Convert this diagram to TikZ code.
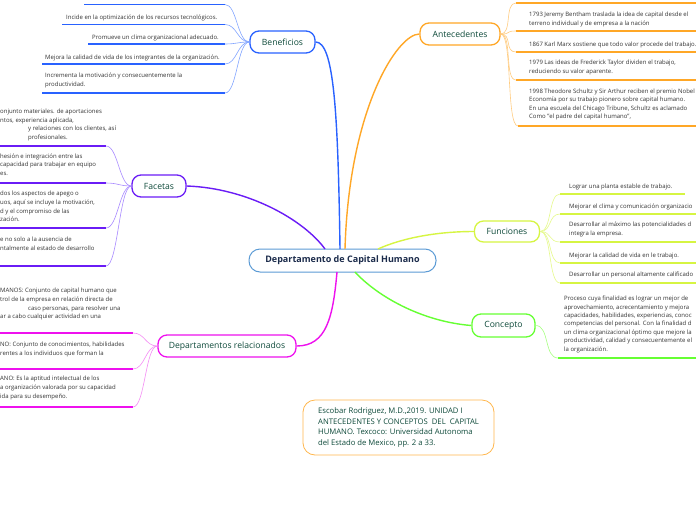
\documentclass[tikz,border=0pt]{standalone}
\usepackage{fontspec}
\setmainfont{Open Sans}
\definecolor{cblue}{HTML}{2962FF}
\definecolor{cbluel}{HTML}{82A5FF}
\definecolor{corange}{HTML}{FFA726}
\definecolor{corangel}{HTML}{FFCC80}
\definecolor{cyellow}{HTML}{D6F542}
\definecolor{cyellowl}{HTML}{E6FA8C}
\definecolor{cgreen}{HTML}{66FF33}
\definecolor{cgreenl}{HTML}{A6FF80}
\definecolor{cpurple}{HTML}{6A1CF6}
\definecolor{cpurplel}{HTML}{A98BFF}
\definecolor{cmag}{HTML}{EE11EE}
\definecolor{cmagl}{HTML}{F58CF5}
\definecolor{ccentral}{HTML}{5B9BD5}
\definecolor{ctitle}{HTML}{0E4A3A}
\definecolor{ccentraltext}{HTML}{1B2B4B}
\definecolor{ctext}{HTML}{333333}
\definecolor{crefbox}{HTML}{FFB74D}
\tikzset{
  every node/.style={inner sep=0pt},
  branchbox/.style={draw=#1, line width=1.3pt, rounded corners=9pt, fill=white, text=ctitle,
    font=\fontsize{8.6}{10}\selectfont, align=center},
  centralbox/.style={draw=ccentral, line width=1pt, rounded corners=11pt, fill=white, text=ccentraltext,
    font=\fontsize{9}{11}\selectfont\bfseries, minimum width=187pt, minimum height=23pt},
  itemtxt/.style={anchor=north west, align=left, text=ctext, font=\fontsize{6}{8.7}\selectfont,
    execute at begin node=\strut},
  uline/.style={draw=#1, line width=1.8pt},
  icon/.style={draw=#1, line width=0.6pt},
  mcon/.style={draw=#1, line width=1.4pt},
  refbox/.style={draw=crefbox, line width=0.8pt, rounded corners=12pt, fill=white, text=ctitle,
    font=\fontsize{7.7}{10.7}\selectfont, align=left, minimum width=191pt, minimum height=55pt}
}
\begin{document}
\begin{tikzpicture}[x=1pt,y=-1pt]
\fill[white] (0,0) rectangle (696,520);
\useasboundingbox (0,0) rectangle (696,520);

% ---------- main nodes
\node[centralbox] (central) at (342.5,260.5) {Departamento de Capital Humano};
\node[branchbox=cblue, minimum width=65pt, minimum height=22pt] (ben) at (282.5,42) {Beneficios};
\node[branchbox=corange, minimum width=80pt, minimum height=22pt] (ant) at (460,34) {Antecedentes};
\node[branchbox=cyellow, minimum width=65pt, minimum height=21pt] (fun) at (507,231.5) {Funciones};
\node[branchbox=cgreen, minimum width=63pt, minimum height=23pt] (con) at (503.5,325.5) {Concepto};
\node[branchbox=cpurple, minimum width=54pt, minimum height=22pt] (fac) at (159,186) {Facetas};
\node[branchbox=cmag, minimum width=138pt, minimum height=22pt] (dep) at (227,346) {Departamentos relacionados};
\node[refbox] (ref) at (398.5,427.5) {Escobar Rodriguez, M.D.,2019. UNIDAD I\\ANTECEDENTES Y CONCEPTOS\ \ DEL\ \ CAPITAL\\HUMANO. Texcoco: Universidad Autonoma\\del Estado de Mexico, pp. 2 a 33.};

% ---------- main connectors
\coordinate (cbt) at (340,249);
\coordinate (cat) at (345,249);
\coordinate (cft) at (325,249);
\coordinate (cfu) at (378,249);
\coordinate (ccb) at (355,272);
\coordinate (cdb) at (337,272);
\draw[mcon=cblue] (ben.east) .. controls +(18,0) and +(-2,-140) .. (cbt);
\draw[mcon=corange] (ant.west) .. controls +(-22,0) and +(4,-140) .. (cat);
\draw[mcon=cpurple] (fac.east) .. controls +(60,2) and +(-22,-30) .. (cft);
\draw[mcon=cyellow] (cfu) .. controls +(22,-10) and +(-40,0) .. (fun.west);
\draw[mcon=cgreen] (ccb) .. controls +(22,24) and +(-50,-4) .. (con.west);
\draw[mcon=cmag] (cdb) .. controls +(-4,45) and +(30,0) .. (dep.east);

% ---------- Beneficios items
\coordinate (b0l) at (84,4.5);  \coordinate (b0r) at (225,4.5);
\coordinate (b1l) at (62,24.5); \coordinate (b1r) at (225,24.5);
\coordinate (b2l) at (88,44);   \coordinate (b2r) at (225,44);
\coordinate (b3l) at (42,64);   \coordinate (b3r) at (225,64);
\coordinate (b4l) at (42,93);   \coordinate (b4r) at (225,93);
\foreach \i in {0,...,4}{
  \draw[uline=cblue] (b\i l) -- (b\i r);
  \draw[icon=cbluel] (ben.west) .. controls +(-12,0) and +(12,0) .. (b\i r);
}
\node[itemtxt] (b1t) at (66,13) {Incide en la optimización de los recursos tecnológicos.};
\node[itemtxt] (b2t) at (92,33) {Promueve un clima organizacional adecuado.};
\node[itemtxt] (b3t) at (45,53) {Mejora la calidad de vida de los integrantes de la organización.};
\node[itemtxt] (b4t) at (45,73) {Incrementa la motivación y consecuentemente la\\productividad.};

% ---------- Antecedentes items
\coordinate (a0l) at (516,3);   \coordinate (a0r) at (700,3);
\coordinate (a1l) at (516,31);  \coordinate (a1r) at (700,31);
\coordinate (a2l) at (516,52);  \coordinate (a2r) at (700,52);
\coordinate (a3l) at (516,80);  \coordinate (a3r) at (700,80);
\coordinate (a4l) at (518,126); \coordinate (a4r) at (700,126);
\foreach \i in {0,...,4}{
  \draw[uline=corange] (a\i l) -- (a\i r);
  \draw[icon=corangel] (ant.east) .. controls +(12,0) and +(-12,0) .. (a\i l);
}
\node[itemtxt] (a1t) at (529,12) {1793 Jeremy Bentham traslada la idea de capital desde el\\terreno individual y de empresa a la nación};
\node[itemtxt] (a2t) at (529,40) {1867 Karl Marx sostiene que todo valor procede del trabajo.};
\node[itemtxt] (a3t) at (529,60) {1979 Las ideas de Frederick Taylor dividen el trabajo,\\reduciendo su valor aparente.};
\node[itemtxt, font=\fontsize{6}{8.2}\selectfont] (a4t) at (529,89) {1998 Theodore Schultz y Sir Arthur reciben el premio Nobel\\Economía por su trabajo pionero sobre capital humano.\\En una escuela del Chicago Tribune, Schultz es aclamado\\Como "el padre del capital humano",};

% ---------- Funciones items
\coordinate (f0l) at (560,194); \coordinate (f0r) at (685,194);
\coordinate (f1l) at (560,214); \coordinate (f1r) at (700,214);
\coordinate (f2l) at (560,242); \coordinate (f2r) at (700,242);
\coordinate (f3l) at (560,263); \coordinate (f3r) at (700,263);
\coordinate (f4l) at (560,283); \coordinate (f4r) at (700,283);
\foreach \i in {0,...,4}{
  \draw[uline=cyellow] (f\i l) -- (f\i r);
  \draw[icon=cyellowl] (fun.east) .. controls +(12,0) and +(-12,0) .. (f\i l);
}
\node[itemtxt] (f0t) at (569,182) {Lograr una planta estable de trabajo.};
\node[itemtxt] (f1t) at (569,202.5) {Mejorar el clima y comunicación organizacio};
\node[itemtxt] (f2t) at (569,222) {Desarrollar al máximo las potencialidades d\\integra la empresa.};
\node[itemtxt] (f3t) at (569,251.7) {Mejorar la calidad de vida en le trabajo.};
\node[itemtxt] (f4t) at (569,270.3) {Desarrollar un personal altamente calificado};

% ---------- Concepto item
\coordinate (c0l) at (558,358); \coordinate (c0r) at (700,358);
\draw[uline=cgreen] (c0l) -- (c0r);
\draw[icon=cgreenl] (con.east) .. controls +(14,0) and +(-14,0) .. (c0l);
\node[itemtxt, font=\fontsize{6}{8.4}\selectfont] (c0t) at (564,296) {Proceso cuya finalidad es lograr un mejor de\\aprovechamiento, acrecentamiento y mejora\\capacidades, habilidades, experiencias, conoc\\competencias del personal. Con la finalidad d\\un clima organizacional óptimo que mejore la\\productividad, calidad y consecuentemente el\\la organización.};

% ---------- Facetas items
\coordinate (fa0l) at (-5,146); \coordinate (fa0r) at (106,146);
\coordinate (fa1l) at (-5,183); \coordinate (fa1r) at (106,183);
\coordinate (fa2l) at (-5,228); \coordinate (fa2r) at (106,228);
\coordinate (fa3l) at (-5,266); \coordinate (fa3r) at (106,266);
\foreach \i in {0,...,3}{
  \draw[uline=cpurple] (fa\i l) -- (fa\i r);
  \draw[icon=cpurplel] (fac.west) .. controls +(-12,0) and +(12,0) .. (fa\i r);
}
\node[itemtxt] (fa0t) at (0,108.7) {onjunto materiales. de aportaciones\\ntos, experiencia aplicada,\\\hspace*{28pt}y relaciones con los clientes, así\\\hspace*{28pt}profesionales.};
\node[itemtxt] (fa1t) at (0,153.3) {hesión e integración entre las\\capacidad para trabajar en equipo\\es.};
\node[itemtxt] (fa2t) at (0,191) {dos los aspectos de apego o\\uos, aquí se incluye la motivación,\\d y el compromiso de las\\zación.};
\node[itemtxt] (fa3t) at (0,237) {e no solo a la ausencia de\\ntalmente al estado de desarrollo};

% ---------- Departamentos items
\coordinate (d0l) at (-5,333); \coordinate (d0r) at (133,333);
\coordinate (d1l) at (-5,369); \coordinate (d1r) at (133,369);
\coordinate (d2l) at (-5,407); \coordinate (d2r) at (133,407);
\foreach \i in {0,...,2}{
  \draw[uline=cmag] (d\i l) -- (d\i r);
  \draw[icon=cmagl] (dep.west) .. controls +(-12,0) and +(12,0) .. (d\i r);
}
\node[itemtxt] (d0t) at (0,288) {MANOS: Conjunto de capital humano que\\trol de la empresa en relación directa de\\\hspace*{28pt}caso personas, para resolver una\\ar a cabo cualquier actividad en una};
\node[itemtxt] (d1t) at (0,342) {NO: Conjunto de conocimientos, habilidades\\rentes a los individuos que forman la};
\node[itemtxt] (d2t) at (0,376) {ANO: Es la aptitud intelectual de los\\a organización valorada por su capacidad\\ida para su desempeño.};
\end{tikzpicture}
\end{document}
